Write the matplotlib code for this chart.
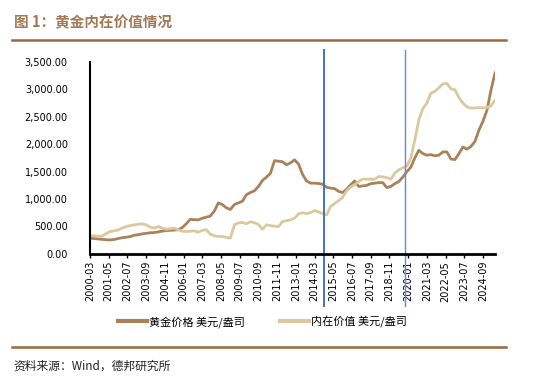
import numpy as np
import pandas as pd
import matplotlib
matplotlib.use('Agg')
import matplotlib.pyplot as plt
from matplotlib.ticker import FuncFormatter

plt.rcParams['font.family'] = ['Noto Sans CJK SC', 'DejaVu Sans']

# quarterly points, 2000-03 .. 2025-06
dates = pd.date_range('2000-03-01', '2025-06-01', freq='3MS')

gold_price = [286, 280, 272, 265, 258, 255, 262, 280, 295, 304,
              315, 340, 350, 365, 375, 385, 390, 400, 415, 425,
              430, 435, 440, 480, 550, 630, 625, 620, 650, 670,
              690, 780, 930, 900, 840, 810, 900, 930, 960, 1080,
              1120, 1150, 1230, 1340, 1400, 1470, 1700, 1690, 1680, 1625,
              1660, 1715, 1640, 1450, 1330, 1290, 1290, 1285, 1270, 1215,
              1200, 1190, 1140, 1120, 1180, 1260, 1330, 1230, 1240, 1250,
              1280, 1290, 1300, 1300, 1210, 1230, 1280, 1320, 1400, 1500,
              1580, 1750, 1890, 1830, 1800, 1810, 1790, 1800, 1860, 1860,
              1730, 1720, 1830, 1950, 1910, 1960, 2050, 2260, 2420, 2620,
              2990, 3300]

intrinsic = [329, 330, 325, 322, 370, 407, 420, 435, 470, 499,
             515, 529, 540, 548, 529, 490, 469, 499, 470, 450,
             460, 469, 438, 415, 407, 415, 420, 395, 430, 440,
             360, 330, 316, 316, 300, 290, 530, 565, 572, 550,
             585, 570, 535, 450, 530, 515, 505, 498, 590, 605,
             620, 650, 730, 750, 735, 755, 791, 765, 735, 712,
             864, 920, 970, 1034, 1150, 1220, 1260, 1320, 1363, 1363,
             1363, 1363, 1411, 1405, 1390, 1363, 1473, 1533, 1570, 1600,
             1746, 2081, 2446, 2650, 2750, 2932, 2963, 3030, 3100, 3110,
             3010, 2995, 2850, 2750, 2680, 2660, 2660, 2670, 2665, 2670,
             2700, 2800]

tick_dates = pd.date_range('2000-03-01', '2024-09-01', freq='14MS')
event_dates = ['2014-10', '2019-11']

def month_idx(d):
    d = pd.Timestamp(d)
    return (d.year - 2000) * 12 + d.month - 3

x = np.array([month_idx(d) for d in dates])

fig = plt.figure(figsize=(5.41, 3.90), dpi=100)
ax = fig.add_axes([0.1664, 0.349, 0.7486, 0.492])

dark = '#A9825A'
light = '#DCC89D'
ax.plot(x, gold_price, color=dark, lw=2.0, label='黄金价格 美元/盎司', solid_joinstyle='round')
ax.plot(x, intrinsic, color=light, lw=2.0, label='内在价值 美元/盎司', solid_joinstyle='round')

ax.axvline(month_idx(event_dates[0]), ymin=-0.27, ymax=1.06, color='#4472C4', lw=1.4, clip_on=False)
ax.axvline(month_idx(event_dates[1]), ymin=-0.27, ymax=1.06, color='#5B8BE0', lw=1.0, clip_on=False)

ax.set_xlim(0, 303)
ax.set_ylim(0, 3500)
ax.set_yticks(np.arange(0, 3501, 500))
ax.yaxis.set_major_formatter(FuncFormatter(lambda v, p: f'{v:,.2f}'))
ax.set_xticks([month_idx(d) for d in tick_dates])
ax.set_xticklabels([d.strftime('%Y-%m') for d in tick_dates], rotation=90,
                   fontsize=7, family='DejaVu Sans')
for lab in ax.get_yticklabels():
    lab.set_family('DejaVu Sans')
ax.tick_params(axis='y', length=0, labelsize=7, pad=16)
ax.tick_params(axis='x', length=3, width=1, direction='out', pad=2)

for s in ['top', 'right']:
    ax.spines[s].set_visible(False)
ax.spines['left'].set_linewidth(1.5)
ax.spines['bottom'].set_linewidth(2)

fig.legend(loc='center', bbox_to_anchor=(0.485, 0.175), ncol=2, frameon=False,
           fontsize=8, handlelength=2.6, columnspacing=3.2, handletextpad=0.2)
for ln in fig.legends[0].get_lines():
    ln.set_linewidth(3)

brown = '#9A6A3E'
fig.text(0.026, 0.943, '图 1：黄金内在价值情况', fontsize=10.5, fontweight='bold',
         color='#A07A55', va='center')
fig.add_artist(plt.Line2D([0.022, 0.935], [0.897, 0.897], color=brown, lw=1.8))
fig.add_artist(plt.Line2D([0.022, 0.935], [0.111, 0.111], color=brown, lw=1.8))
fig.text(0.024, 0.062, '资料来源：Wind，德邦研究所', fontsize=8.5, color='#222222', va='center')

fig.savefig('out.png', dpi=100)
